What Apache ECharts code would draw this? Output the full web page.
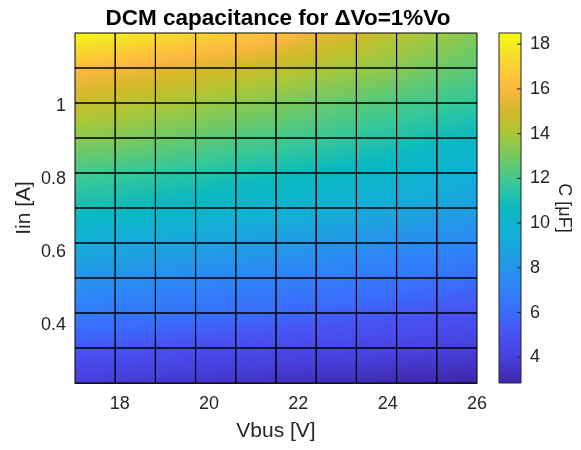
<!DOCTYPE html>
<html>
<head>
<meta charset="utf-8">
<title>DCM capacitance</title>
<script src="https://cdn.jsdelivr.net/npm/echarts@6/dist/echarts.min.js"></script>
<style>
  html, body { margin: 0; padding: 0; background: #ffffff; }
  #chart { width: 581px; height: 450px; }
</style>
</head>
<body>
<div id="chart"></div>
<script>
// Bus voltage grid [V]
const vbus = [17, 17.9, 18.8, 19.7, 20.6, 21.5, 22.4, 23.3, 24.2, 25.1, 26];
// Input current grid [A]
const iin = [0.24, 0.336, 0.432, 0.528, 0.624, 0.72, 0.816, 0.912, 1.008, 1.104, 1.2];
// Required capacitance [uF]; one row per input current, one column per bus voltage
const capUF = [
  [3.80, 3.70, 3.60, 3.50, 3.40, 3.30, 3.20, 3.10, 3.00, 2.95, 2.85],
  [5.30, 5.15, 5.00, 4.85, 4.70, 4.60, 4.45, 4.35, 4.20, 4.10, 4.00],
  [6.80, 6.60, 6.40, 6.20, 6.05, 5.90, 5.70, 5.50, 5.35, 5.20, 5.05],
  [8.00, 7.85, 7.65, 7.45, 7.30, 7.10, 6.90, 6.70, 6.50, 6.30, 6.10],
  [9.40, 9.20, 9.00, 8.80, 8.60, 8.40, 8.20, 7.95, 7.70, 7.50, 7.30],
  [11.0, 10.8, 10.55, 10.3, 10.1, 9.90, 9.65, 9.40, 9.10, 8.85, 8.60],
  [12.0, 11.85, 11.6, 11.4, 11.15, 10.9, 10.65, 10.35, 10.05, 9.75, 9.45],
  [13.4, 13.25, 12.95, 12.65, 12.35, 12.1, 11.85, 11.55, 11.25, 10.9, 10.6],
  [14.8, 14.5, 14.15, 13.85, 13.5, 13.2, 12.85, 12.5, 12.2, 11.9, 11.6],
  [16.2, 15.9, 15.6, 15.3, 15.0, 14.6, 14.2, 13.8, 13.4, 12.9, 12.5],
  [18.5, 18.0, 17.6, 17.2, 16.8, 16.4, 15.7, 15.0, 14.4, 13.8, 13.3]
];
// Tick labels
const vbusTicks = [18, 20, 22, 24, 26];
const iinTicks = [0.4, 0.6, 0.8, 1];
const capTicks = [4, 6, 8, 10, 12, 14, 16, 18];

// Parula-like colormap stops
const PARULA = [
  [0.000, '#3e26a8'], [0.070, '#4740dc'], [0.143, '#4852f4'], [0.200, '#3a6cfc'],
  [0.286, '#2d87f7'], [0.357, '#1f9de2'], [0.429, '#12b1d6'], [0.500, '#0ab9c0'],
  [0.571, '#37c897'], [0.643, '#71c963'], [0.714, '#abc739'], [0.760, '#c9bc28'],
  [0.800, '#e0b82f'], [0.835, '#fbb640'], [0.870, '#fdc33a'], [0.930, '#f5dc2a'],
  [1.000, '#f9fb0e']
];
const FONT = "'Liberation Sans', Arial, Helvetica, sans-serif";
const TEXT = '#262626';

const allVals = capUF.flat();
const cMin = Math.min.apply(null, allVals);
const cMax = Math.max.apply(null, allVals);

function hexRgb(h) {
  return [parseInt(h.slice(1, 3), 16), parseInt(h.slice(3, 5), 16), parseInt(h.slice(5, 7), 16)];
}
const stopsRgb = PARULA.map(s => [s[0], hexRgb(s[1])]);
function colorOf(v) {
  let t = (v - cMin) / (cMax - cMin);
  t = Math.max(0, Math.min(1, t));
  for (let k = 1; k < stopsRgb.length; k++) {
    if (t <= stopsRgb[k][0]) {
      const a = stopsRgb[k - 1], b = stopsRgb[k];
      const f = (t - a[0]) / (b[0] - a[0]);
      const c = a[1].map((x, n) => Math.round(x + (b[1][n] - x) * f));
      return 'rgb(' + c.join(',') + ')';
    }
  }
  const last = stopsRgb[stopsRgb.length - 1][1];
  return 'rgb(' + last.join(',') + ')';
}

// Linear colour field over a triangle, expressed as a global linear gradient
function triangleFill(pa, pb, pc, va, vb, vc) {
  const d1x = pb[0] - pa[0], d1y = pb[1] - pa[1];
  const d2x = pc[0] - pa[0], d2y = pc[1] - pa[1];
  const dv1 = vb - va, dv2 = vc - va;
  const det = d1x * d2y - d1y * d2x;
  const lo = Math.min(va, vb, vc), hi = Math.max(va, vb, vc);
  if (Math.abs(det) < 1e-9 || hi - lo < 1e-9) {
    return colorOf((va + vb + vc) / 3);
  }
  const ga = (dv1 * d2y - dv2 * d1y) / det;
  const gb = (d1x * dv2 - d2x * dv1) / det;
  const g2 = ga * ga + gb * gb;
  const sx = pa[0] + (lo - va) * ga / g2, sy = pa[1] + (lo - va) * gb / g2;
  const ex = pa[0] + (hi - va) * ga / g2, ey = pa[1] + (hi - va) * gb / g2;
  const n = 8, stops = [];
  for (let k = 0; k < n; k++) {
    stops.push({ offset: k / (n - 1), color: colorOf(lo + (hi - lo) * k / (n - 1)) });
  }
  return new echarts.graphic.LinearGradient(sx, sy, ex, ey, stops, true);
}

// One item per grid cell: x-range, y-range and the four corner values
const cells = [];
for (let j = 0; j < iin.length - 1; j++) {
  for (let i = 0; i < vbus.length - 1; i++) {
    cells.push([vbus[i], vbus[i + 1], iin[j], iin[j + 1],
      capUF[j][i], capUF[j][i + 1], capUF[j + 1][i], capUF[j + 1][i + 1]]);
  }
}

// Each cell: the upper-left triangle's field fills the whole cell,
// then the lower-right triangle is painted over it (no seam on the diagonal)
function renderSurface(params, api) {
  const x0 = api.value(0), x1 = api.value(1), y0 = api.value(2), y1 = api.value(3);
  const v00 = api.value(4), v10 = api.value(5), v01 = api.value(6), v11 = api.value(7);
  const p00 = api.coord([x0, y0]), p10 = api.coord([x1, y0]);
  const p01 = api.coord([x0, y1]), p11 = api.coord([x1, y1]);
  return {
    type: 'group',
    children: [
      {
        type: 'rect',
        shape: { x: p01[0], y: p01[1], width: p11[0] - p01[0], height: p00[1] - p01[1] },
        style: { fill: triangleFill(p00, p11, p01, v00, v11, v01) },
        silent: true
      },
      {
        type: 'polygon',
        shape: { points: [p00, p10, p11] },
        style: { fill: triangleFill(p00, p10, p11, v00, v10, v11) },
        silent: true
      }
    ]
  };
}

function renderEdges(params, api) {
  const p0 = api.coord([api.value(0), api.value(3)]);
  const p1 = api.coord([api.value(1), api.value(2)]);
  return {
    type: 'rect',
    shape: { x: p0[0], y: p0[1], width: p1[0] - p0[0], height: p1[1] - p0[1] },
    style: { fill: null, stroke: '#000000', lineWidth: 1 },
    silent: true
  };
}

// Colour bar: gradient strip, outline and inward tick marks on its right edge
function renderColorbar(params, api) {
  const pb = api.coord([api.value(0), api.value(2)]);
  const pt = api.coord([api.value(1), api.value(3)]);
  const n = 48, stops = [];
  for (let k = 0; k < n; k++) {
    stops.push({ offset: k / (n - 1), color: colorOf(cMax - (cMax - cMin) * k / (n - 1)) });
  }
  const children = [{
    type: 'rect',
    shape: { x: pb[0], y: pt[1], width: pt[0] - pb[0], height: pb[1] - pt[1] },
    style: {
      fill: new echarts.graphic.LinearGradient(0, 0, 0, 1, stops),
      stroke: TEXT, lineWidth: 1
    },
    silent: true
  }];
  capTicks.forEach(function (t) {
    const p = api.coord([api.value(1), t]);
    children.push({
      type: 'line',
      shape: { x1: p[0] - 4, y1: p[1], x2: p[0], y2: p[1] },
      style: { stroke: TEXT, lineWidth: 1 },
      silent: true
    });
  });
  return { type: 'group', children: children };
}

const chart = echarts.init(document.getElementById('chart'), null, { renderer: 'canvas' });
chart.setOption({
  backgroundColor: '#ffffff',
  animation: false,
  textStyle: { fontFamily: FONT },
  title: {
    text: 'DCM capacitance for \u0394Vo=1%Vo',
    left: 273,
    top: 2,
    textAlign: 'center',
    textStyle: { fontFamily: FONT, fontSize: 22.5, fontWeight: 'bold', color: '#000000' }
  },
  grid: [
    { left: 75, top: 33, width: 402, height: 350 },
    { left: 499, top: 33, width: 22, height: 350 }
  ],
  xAxis: [
    {
      gridIndex: 0, type: 'value', min: vbus[0], max: vbus[vbus.length - 1],
      name: 'Vbus [V]', nameLocation: 'middle', nameGap: 38, nameMoveOverlap: false,
      nameTextStyle: { fontFamily: FONT, fontSize: 21, color: TEXT },
      axisLine: { show: true, lineStyle: { color: TEXT, width: 1 } },
      axisTick: { show: false },
      axisLabel: { customValues: vbusTicks, fontFamily: FONT, fontSize: 18, color: TEXT, margin: 12 },
      splitLine: { show: false }
    },
    { gridIndex: 1, type: 'value', min: 0, max: 1, show: false }
  ],
  yAxis: [
    {
      gridIndex: 0, type: 'value', min: iin[0], max: iin[iin.length - 1],
      name: 'Iin [A]', nameLocation: 'middle', nameGap: 40, nameMoveOverlap: false,
      nameTextStyle: { fontFamily: FONT, fontSize: 21, color: TEXT },
      axisLine: { show: true, lineStyle: { color: TEXT, width: 1 } },
      axisTick: { show: false },
      axisLabel: { customValues: iinTicks, fontFamily: FONT, fontSize: 18, color: TEXT, margin: 9 },
      splitLine: { show: false }
    },
    {
      gridIndex: 1, type: 'value', min: cMin, max: cMax, position: 'right',
      name: 'C [\u03bcF]', nameLocation: 'middle', nameGap: 34, nameRotate: -90, nameMoveOverlap: false,
      nameTextStyle: { fontFamily: FONT, fontSize: 18, color: TEXT },
      axisLine: { show: false },
      axisTick: { show: false },
      axisLabel: { customValues: capTicks, fontFamily: FONT, fontSize: 18, color: TEXT, margin: 9 },
      splitLine: { show: false }
    }
  ],
  series: [
    {
      type: 'custom', xAxisIndex: 0, yAxisIndex: 0, z: 2,
      renderItem: renderSurface, data: cells,
      encode: { x: [0, 1], y: [2, 3] }, clip: true, silent: true
    },
    {
      type: 'custom', xAxisIndex: 0, yAxisIndex: 0, z: 3,
      renderItem: renderEdges, data: cells,
      encode: { x: [0, 1], y: [2, 3] }, silent: true
    },
    {
      type: 'custom', xAxisIndex: 1, yAxisIndex: 1, z: 2,
      renderItem: renderColorbar, data: [[0, 1, cMin, cMax]],
      encode: { x: [0, 1], y: [2, 3] }, silent: true
    }
  ]
});
</script>
</body>
</html>
